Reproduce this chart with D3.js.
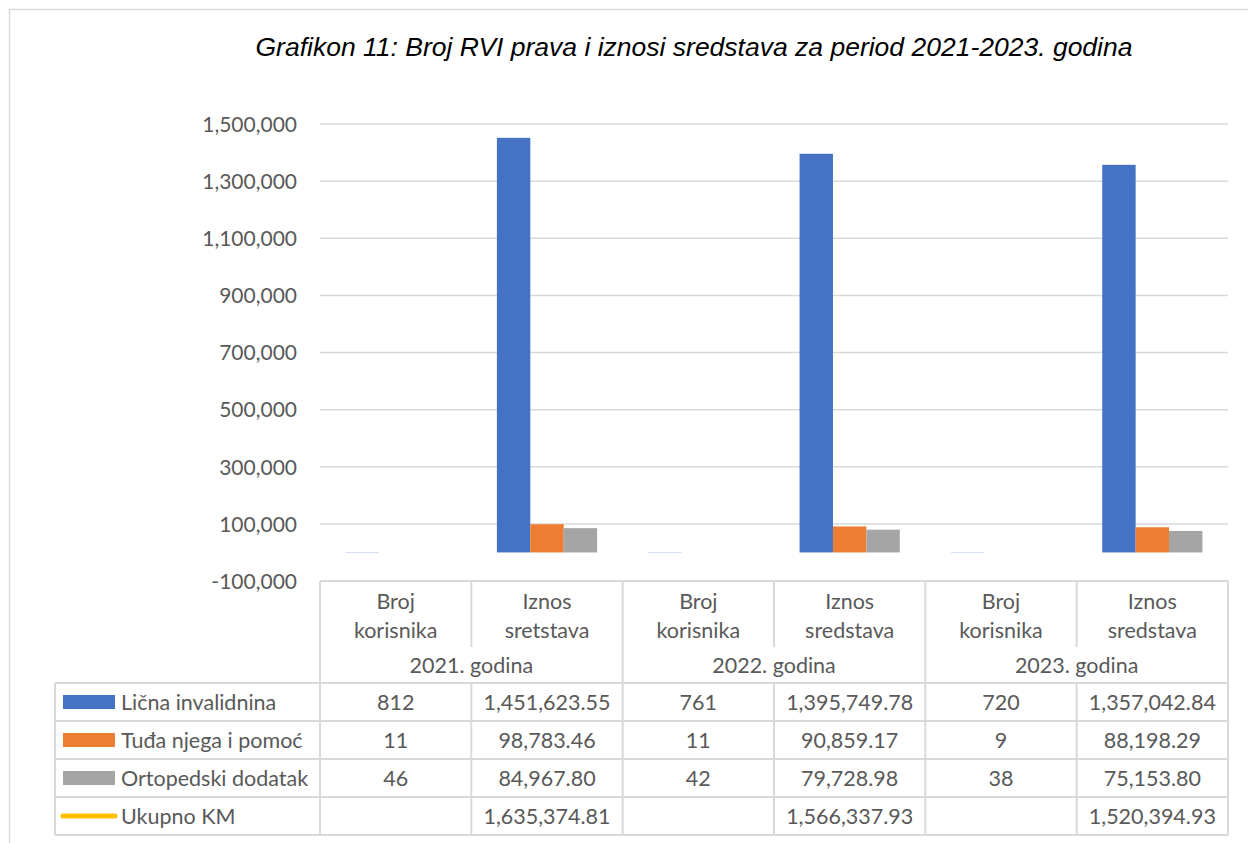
<!DOCTYPE html>
<html>
<head>
<meta charset="utf-8">
<script src="https://cdn.jsdelivr.net/npm/d3@7"></script>
<style>
  html, body { margin: 0; padding: 0; background: #fff; }
  svg { display: block; }
</style>
</head>
<body>
<svg id="chart" width="1248" height="843"></svg>
<script>
// ---- data ----
const categories = ["Broj korisnika", "Iznos sretstava", "Broj korisnika", "Iznos sredstava", "Broj korisnika", "Iznos sredstava"];
const years = ["2021. godina", "2022. godina", "2023. godina"];
const seriesNames = ["Lična invalidnina", "Tuđa njega i pomoć", "Ortopedski dodatak", "Ukupno KM"];
const licnaInvalidnina = [812, 1451623.55, 761, 1395749.78, 720, 1357042.84];
const tudjaNjega = [11, 98783.46, 11, 90859.17, 9, 88198.29];
const ortopedskiDodatak = [46, 84967.80, 42, 79728.98, 38, 75153.80];
const ukupnoKM = [null, 1635374.81, null, 1566337.93, null, 1520394.93];
const yTicks = [-100000, 100000, 300000, 500000, 700000, 900000, 1100000, 1300000, 1500000];
const colors = ["#4472C4", "#ED7D31", "#A5A5A5", "#FFC000"];

(function () {
const barSeries = [licnaInvalidnina, tudjaNjega, ortopedskiDodatak];
const allSeries = [licnaInvalidnina, tudjaNjega, ortopedskiDodatak, ukupnoKM];

const svg = d3.select("#chart");
const font = "Lato, 'Open Sans', sans-serif";
const textColor = "#595959";
const lineColor = "#D9D9D9";
const tableFont = 21.5;

// outer border
svg.append("rect").attr("x", 9.5).attr("y", 9.5).attr("width", 1300).attr("height", 900)
  .attr("fill", "none").attr("stroke", lineColor).attr("stroke-width", 1.5);

// title
svg.append("text").attr("x", 694).attr("y", 56).attr("text-anchor", "middle")
  .attr("font-family", "'Liberation Sans', Arial, sans-serif").attr("font-style", "italic")
  .attr("font-size", 26.5).attr("fill", "#000")
  .text("Grafikon 11: Broj RVI prava i iznosi sredstava za period 2021-2023. godina");

const pLeft = 320, pRight = 1228, pTop = 124, pBottom = 581;
const x0 = d3.scaleBand().domain(d3.range(categories.length)).range([pLeft, pRight]).padding(0);
const x1 = d3.scaleBand().domain(d3.range(barSeries.length)).range([0, x0.bandwidth()])
  .paddingInner(0).paddingOuter(0.765);
const y = d3.scaleLinear().domain([-100000, 1500000]).range([pBottom, pTop]);

// gridlines
svg.append("g").selectAll("line").data(yTicks).join("line")
  .attr("x1", pLeft).attr("x2", pRight)
  .attr("y1", d => y(d)).attr("y2", d => y(d))
  .attr("stroke", lineColor).attr("stroke-width", 1.5);

// y axis labels
const yAxis = d3.axisLeft(y).tickValues(yTicks).tickSize(0).tickPadding(0)
  .tickFormat(d => d3.format(",")(d).replace("\u2212", "-"));
const gy = svg.append("g").attr("transform", `translate(${297},0)`).call(yAxis);
gy.select(".domain").remove();
gy.selectAll("text").attr("font-family", font).attr("font-size", 21).attr("fill", textColor)
  .attr("dy", "0.35em");

// bars
svg.append("clipPath").attr("id", "plotclip").append("rect")
  .attr("x", pLeft).attr("y", pTop).attr("width", pRight - pLeft).attr("height", pBottom - pTop);
const gBars = svg.append("g").attr("clip-path", "url(#plotclip)");
barSeries.forEach((vals, si) => {
  gBars.append("g").selectAll("rect").data(vals).join("rect")
    .attr("x", (d, i) => x0(i) + x1(si))
    .attr("width", x1.bandwidth())
    .attr("y", d => y(Math.max(0, d)))
    .attr("height", d => Math.abs(y(d) - y(0)))
    .attr("fill", colors[si]);
});
// total line (gaps where undefined; values exceed axis max so clipped)
const line = d3.line().defined(d => d != null)
  .x((d, i) => x0(i) + x0.bandwidth() / 2).y(d => y(d));
gBars.append("path").datum(ukupnoKM).attr("d", line)
  .attr("fill", "none").attr("stroke", colors[3]).attr("stroke-width", 4);

// ---- data table ----
const tbl = svg.append("g");
const legLeft = 55;
const headerTop = pBottom, headerMid = 647, headerBottom = 683;
const rowH = 38;
const rowsTop = headerBottom;
const rowsBottom = rowsTop + rowH * allSeries.length;
const stroke = l => l.attr("stroke", lineColor).attr("stroke-width", 2);

tbl.append("line").attr("x1", pLeft).attr("x2", pRight).attr("y1", headerTop).attr("y2", headerTop).call(stroke);
d3.range(allSeries.length + 1).forEach(r => {
  const yy = rowsTop + r * rowH;
  tbl.append("line").attr("x1", legLeft).attr("x2", pRight).attr("y1", yy).attr("y2", yy).call(stroke);
});
tbl.append("line").attr("x1", legLeft).attr("x2", legLeft).attr("y1", rowsTop).attr("y2", rowsBottom).call(stroke);
d3.range(categories.length + 1).forEach(c => {
  const xx = c < categories.length ? x0(c) : pRight;
  if (c % 2 === 1) {
    tbl.append("line").attr("x1", xx).attr("x2", xx).attr("y1", headerTop).attr("y2", headerMid).call(stroke);
    tbl.append("line").attr("x1", xx).attr("x2", xx).attr("y1", rowsTop).attr("y2", rowsBottom).call(stroke);
  } else {
    tbl.append("line").attr("x1", xx).attr("x2", xx).attr("y1", headerTop).attr("y2", rowsBottom).call(stroke);
  }
});

const txt = (g, x, yy, s) => g.append("text").attr("x", x).attr("y", yy).attr("text-anchor", "middle")
  .attr("dy", "0.35em").attr("font-family", font).attr("font-size", tableFont).attr("fill", textColor).text(s);

categories.forEach((c, i) => {
  const cx = x0(i) + x0.bandwidth() / 2;
  const words = c.split(" ");
  txt(tbl, cx, 601, words[0]);
  txt(tbl, cx, 630, words[1]);
});
years.forEach((yr, i) => {
  const cx = x0(i * 2) + x0.bandwidth();
  txt(tbl, cx, 665, yr);
});

const fmtInt = d3.format(",");
const fmtDec = d3.format(",.2f");
allSeries.forEach((vals, si) => {
  const cy = rowsTop + si * rowH + rowH / 2;
  if (si < 3) {
    tbl.append("rect").attr("x", 63).attr("y", cy - 7).attr("width", 52).attr("height", 14).attr("fill", colors[si]);
  } else {
    tbl.append("line").attr("x1", 63).attr("x2", 115).attr("y1", cy).attr("y2", cy)
      .attr("stroke", colors[si]).attr("stroke-width", 5).attr("stroke-linecap", "round");
  }
  tbl.append("text").attr("x", 121).attr("y", cy).attr("dy", "0.35em")
    .attr("font-family", font).attr("font-size", tableFont).attr("fill", textColor).text(seriesNames[si]);
  vals.forEach((v, i) => {
    if (v == null) return;
    const cx = x0(i) + x0.bandwidth() / 2;
    txt(tbl, cx, cy, i % 2 === 0 ? fmtInt(v) : fmtDec(v));
  });
});
})();
</script>
</body>
</html>
